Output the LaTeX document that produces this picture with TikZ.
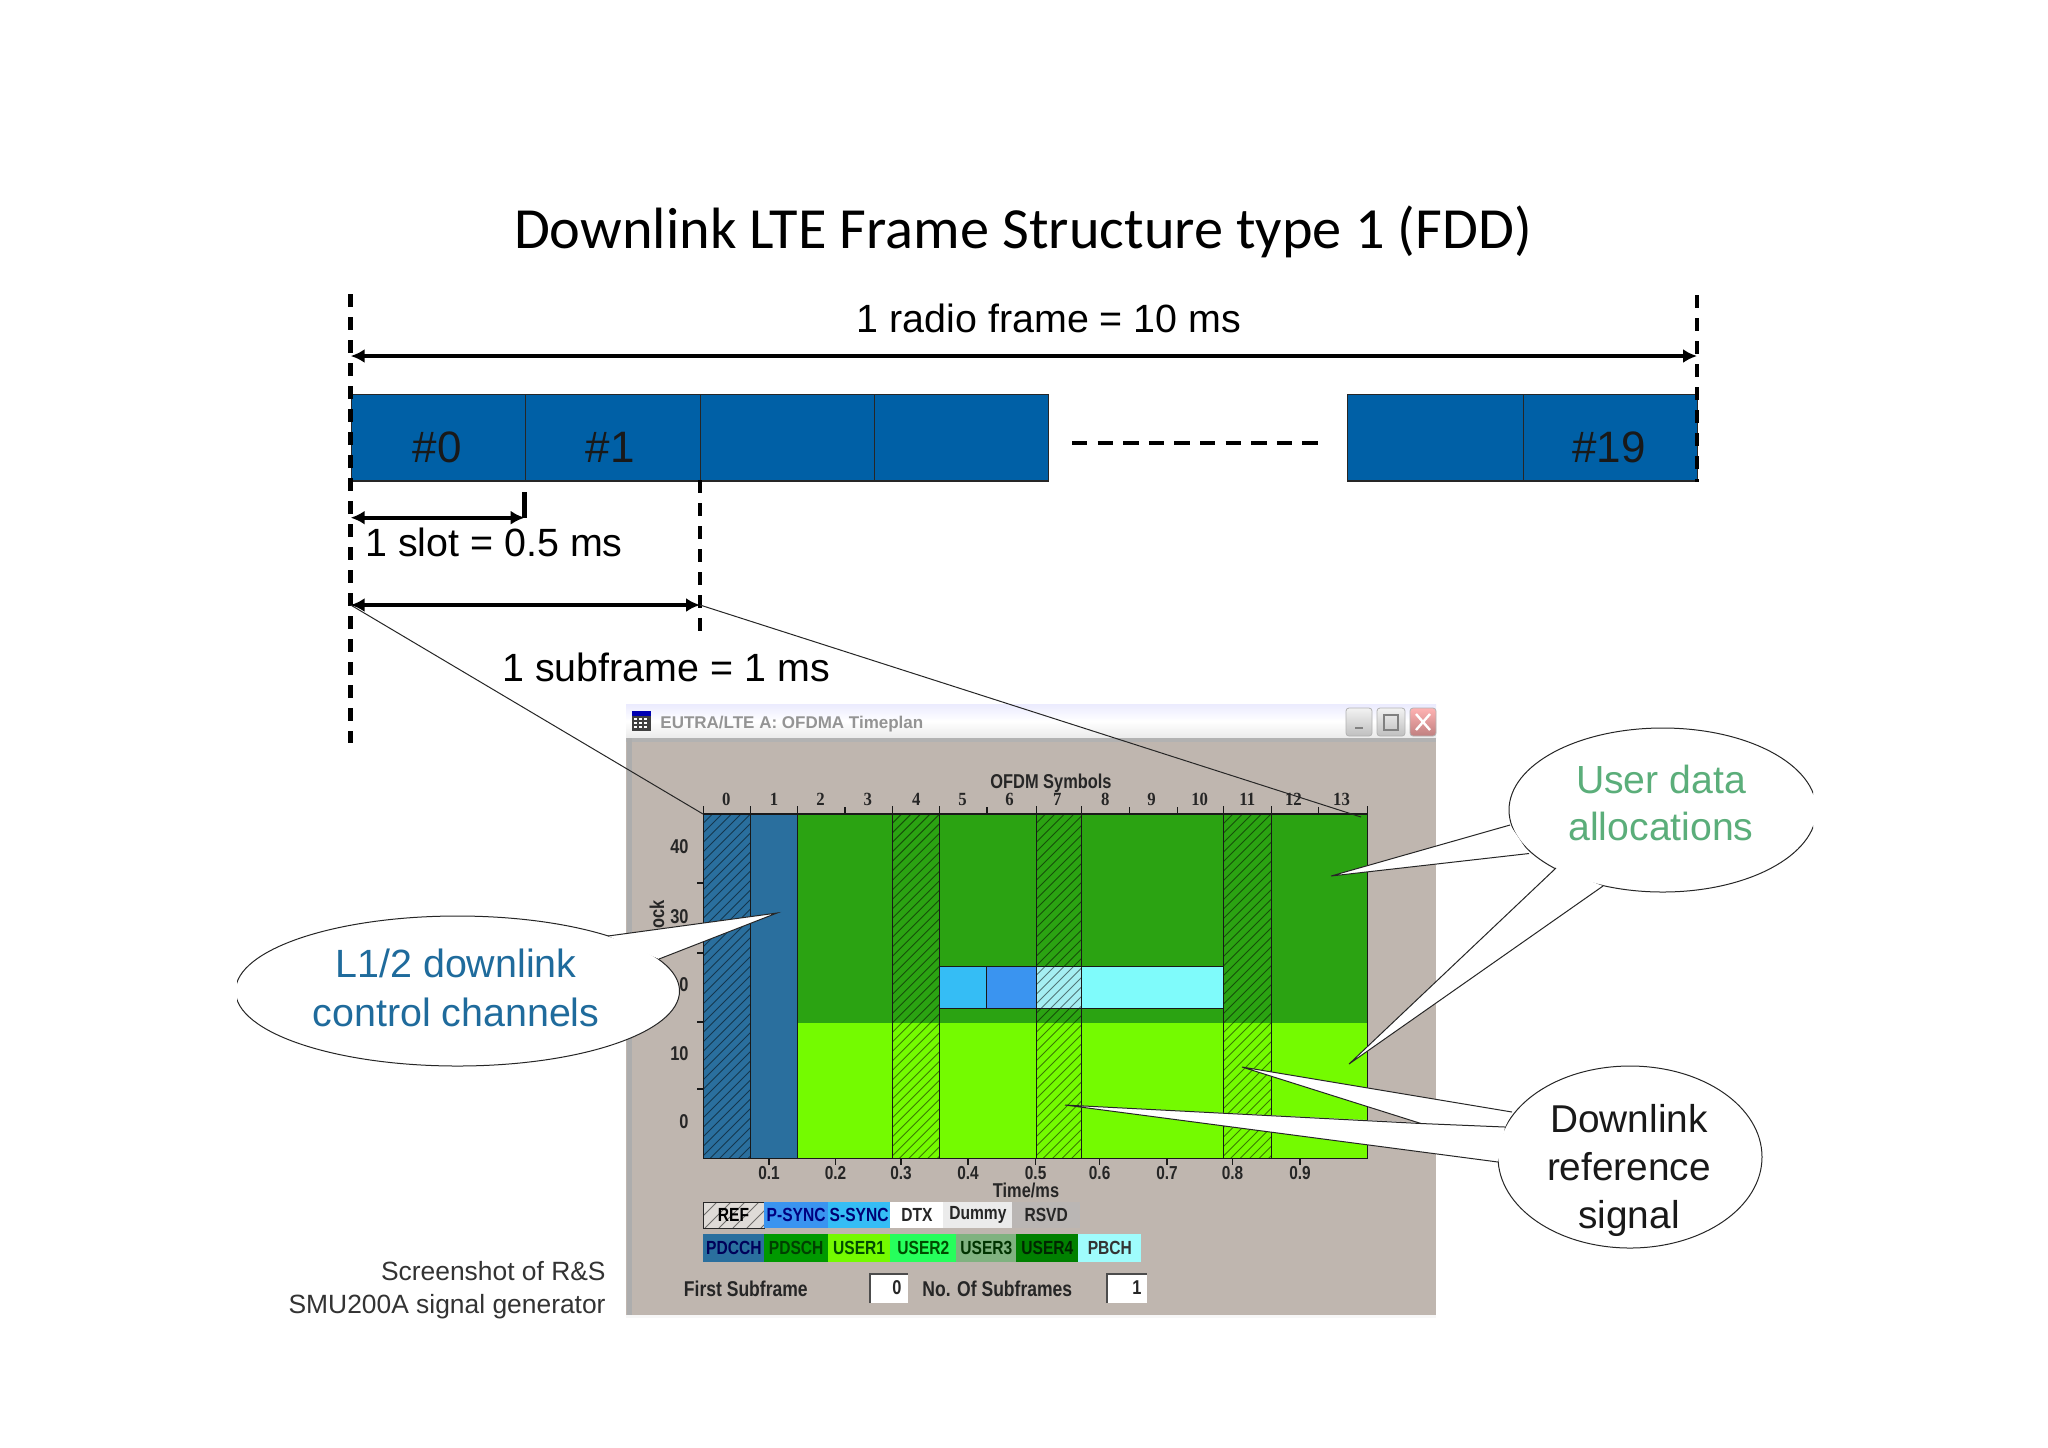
\documentclass[tikz,border=0pt]{standalone}
\usepackage{fontspec}
\setmainfont{Liberation Sans}
\newfontfamily\titlefont{Carlito}
\newfontfamily\uifont[FakeStretch=0.82]{Liberation Sans}
\newfontfamily\uiwide{Liberation Sans}
\newfontfamily\uiserif[FakeStretch=0.9]{Liberation Serif}
\usetikzlibrary{arrows.meta}
\definecolor{barblue}{HTML}{0060A6}
\definecolor{wingray}{HTML}{BFB6AF}
\definecolor{rsvdgray}{HTML}{BAB6B4}
\definecolor{pdcch}{HTML}{2A6F9E}
\definecolor{dkgreen}{HTML}{2BA312}
\definecolor{ltgreen}{HTML}{74FB00}
\definecolor{ssync}{HTML}{35BDF5}
\definecolor{psync}{HTML}{3A94F0}
\definecolor{pbch}{HTML}{7FFBFB}
\definecolor{pbchlt}{HTML}{A5EEF2}
\definecolor{ltxtblue}{HTML}{1F6B9C}
\definecolor{ltxtgreen}{HTML}{5BAE7A}
\tikzset{
  x=0.5pt,y=-0.5pt,
  lab/.style={inner sep=0pt,font=\fontsize{19.7}{22}\selectfont,anchor=base west},
  slotbox/.style={draw=black!85,line width=0.7pt,fill=barblue},
  slotno/.style={inner sep=0pt,text=black!90,font=\fontsize{22}{22}\selectfont},
  bigdash/.style={line width=2.3pt,dash pattern=on 6.5pt off 5pt},
  dimarrow/.style={line width=2.1pt,{Latex[length=7pt,width=7pt]}-{Latex[length=7pt,width=7pt]}},
  thin1/.style={line width=0.5pt,black!85},
  axline/.style={line width=0.6pt,black!90},
  uilab/.style={inner sep=0pt,font=\fontsize{10}{10}\selectfont\uifont\bfseries,text=black!85},
  timelab/.style={inner sep=0pt,font=\fontsize{9.4}{10}\selectfont\uifont\bfseries,text=black!85},
  uilong/.style={inner sep=0pt,font=\fontsize{10.7}{11}\selectfont\uifont\bfseries,text=black!85},
  symlab/.style={inner sep=0pt,font=\fontsize{9.3}{10}\selectfont\uiserif\bfseries,text=black!85},
  legbox/.style={inner sep=0pt,font=\fontsize{9.5}{10}\selectfont\uifont\bfseries},
  bubbleline/.style={line width=0.5pt,black!85},
}
\newcommand{\hatchrect}[5]{%
  \begin{scope}
    \clip (#1,#2) rectangle (#3,#4);
    \pgfmathsetmacro{\hh}{#4-#2}
    \pgfmathsetmacro{\hstart}{#1-\hh}
    \pgfmathsetmacro{\hnext}{\hstart+#5}
    \pgfmathsetmacro{\hend}{#3+#5}
    \foreach \d in {\hstart,\hnext,...,\hend}
      \draw[line width=0.45pt,black,opacity=0.5] (\d,#4) -- ++(\hh,-\hh);
  \end{scope}}
\begin{document}
\begin{tikzpicture}
\useasboundingbox (0,0) rectangle (2048,1447);
\fill[white] (0,0) rectangle (2048,1447);

% title
\node[inner sep=0pt,font=\fontsize{29.15}{32}\selectfont\titlefont] (title) at (1023,232) {Downlink LTE Frame Structure type 1 (FDD)};

% ===== window =====
\fill[wingray] (626,704) rectangle (1436,1315);
\shade[top color=black!4!blue!8!white,bottom color=black!8,middle color=white] (626,704) rectangle (1436,738);
\fill[black!30] (626,738) rectangle (1436,742);
\fill[black!32] (627,738) rectangle (632,1315);
\fill[black!3] (626,1315) rectangle (1436,1318);
% icon
\fill[black!75] (632,711) rectangle (651,731);
\fill[blue!70!black] (632,711) rectangle (651,716);
\foreach \ix in {634,639,644}\foreach \iy in {718,722,726}
  \fill[white] (\ix,\iy) rectangle ++(3,2);
\node[inner sep=0pt,anchor=west,text=black!42,font=\fontsize{8.5}{9}\selectfont\uiwide\bfseries] (wintitle) at (660,724) {EUTRA/LTE A: OFDMA Timeplan};
% buttons
\draw[black!30,top color=black!5,bottom color=black!25,rounded corners=1.5pt,line width=0.4pt] (1346,708) rectangle (1372,736);
\draw[black!50,line width=0.8pt] (1355,728) -- (1363,728);
\draw[black!30,top color=black!5,bottom color=black!25,rounded corners=1.5pt,line width=0.4pt] (1377,708) rectangle (1405,736);
\draw[black!50,line width=0.6pt] (1384,715) rectangle (1398,730);
\draw[black!30,top color=red!30,bottom color=red!50!black!50,rounded corners=1.5pt,line width=0.4pt] (1410,708) rectangle (1436,736);
\draw[white,line width=1.2pt] (1416,714) -- (1430,730) (1430,714) -- (1416,730);

% ===== plot =====
\fill[pdcch] (703,814) rectangle (797.9,1158.5);
\fill[dkgreen] (797.9,814) rectangle (1367,1023);
\fill[ltgreen] (797.9,1023) rectangle (1367,1158.5);
% band
\fill[ssync] (939.7,966.5) rectangle (986.9,1008.5);
\fill[psync] (986.9,966.5) rectangle (1036,1008.5);
\fill[pbchlt] (1036,966.5) rectangle (1081.6,1008.5);
\fill[pbch] (1081.6,966.5) rectangle (1223.5,1008.5);
% hatches
\hatchrect{703}{814}{750.8}{1158.5}{9.5}
\hatchrect{892.1}{814}{939.7}{1158.5}{9.5}
\hatchrect{1036}{814}{1081.6}{1158.5}{9.5}
\hatchrect{1223.5}{814}{1271.1}{1158.5}{9.5}
% column lines
\foreach \cx in {703,750.8,797.9,892.1,939.7,1036,1081.6,1223.5,1271.1,1367}
  \draw[axline,line width=0.5pt] (\cx,806) -- (\cx,1158.5);
\draw[axline,line width=0.5pt] (986.9,966.5) -- (986.9,1008.5);
\draw[axline] (939.7,966.5) -- (1223.5,966.5) (939.7,1008.5) -- (1223.5,1008.5);
\draw[axline,line width=0.8pt] (703,814) -- (1367,814);
\draw[axline,line width=0.8pt] (703,1158.5) -- (1367,1158.5);
% ticks
\foreach \tx in {845,986.9,1129.8,1177.4,1318.8}
  \draw[axline] (\tx,807) -- (\tx,814);
\foreach \tx in {769,835.5,901,968,1035.6,1099.6,1167,1232.5,1300}
  \draw[axline] (\tx,1158.5) -- (\tx,1165);
\foreach \ty in {883,953,1022,1089}
  \draw[axline] (697,\ty) -- (703,\ty);
% symbol labels
\foreach \sx/\sl in {726.4/0,774/1,820.6/2,867.8/3,916.4/4,962.5/5,1009.6/6,1057.3/7,1105.4/8,1151.5/9,1199.7/10,1247.3/11,1293.4/12,1341.5/13}
  \node[symlab] (sym\sl) at (\sx,799) {\sl};
\node[uilab] (ofdm) at (1051,783) {OFDM Symbols};
% time labels
\foreach \tx/\tl/\tn in {769/0.1/a,835.5/0.2/b,901/0.3/c,968/0.4/d,1035.6/0.5/e,1099.6/0.6/f,1167/0.7/g,1232.5/0.8/h,1300/0.9/i}
  \node[timelab] (time\tn) at (\tx,1173) {\tl};
\node[uilab] (timems) at (1026,1190) {Time/ms};
% y labels
\foreach \yy/\yl/\yn in {847/40/a,917/30/b,1054/10/d,1122/0/e}
  \node[uilab,anchor=east] (ylab\yn) at (689,\yy) {\yl};
\node[uilab,rotate=90] (ylab) at (657,914) {ock};

% legend row 1
\fill[wingray!50!white] (703,1202) rectangle (764,1228);
\hatchrect{703}{1202}{764}{1228}{14}
\draw[line width=0.5pt,black!85] (703,1202) rectangle (764,1228);
\node[legbox] (lref) at (733.5,1215) {REF};
\node[legbox,minimum width=31.75pt,minimum height=13pt,fill=psync,text=blue!50!black,anchor=north west] (lps) at (764,1202) {P-SYNC};
\node[legbox,minimum width=31.25pt,minimum height=13pt,fill=ssync,text=blue!45!black,anchor=north west] (lss) at (827.5,1202) {S-SYNC};
\node[legbox,minimum width=26.5pt,minimum height=13pt,fill=white,text=black!85,anchor=north west] (ldtx) at (890,1202) {DTX};
\node[legbox,minimum width=34.5pt,minimum height=13pt,fill=black!8,text=black!85,anchor=north west] (ldum) at (943,1202) {Dummy};
\node[legbox,minimum width=33.75pt,minimum height=13pt,fill=rsvdgray,text=black!85,anchor=north west] (lrsvd) at (1012,1202) {RSVD};
% legend row 2
\node[legbox,minimum width=30.5pt,minimum height=14pt,fill=pdcch,text=blue!35!black,anchor=north west] (lpdcch) at (703,1234) {PDCCH};
\node[legbox,minimum width=31.75pt,minimum height=14pt,fill=green!60!black,text=green!25!black,anchor=north west] (lpdsch) at (764,1234) {PDSCH};
\node[legbox,minimum width=31.25pt,minimum height=14pt,fill=ltgreen,text=green!30!black,anchor=north west] (luser1) at (827.5,1234) {USER1};
\node[legbox,minimum width=33pt,minimum height=14pt,fill=green!75!cyan!85!white,text=green!30!black,anchor=north west] (luser2) at (890,1234) {USER2};
\node[legbox,minimum width=30pt,minimum height=14pt,fill=green!40!black!50!white,text=green!20!black,anchor=north west] (luser3) at (956,1234) {USER3};
\node[legbox,minimum width=31pt,minimum height=14pt,fill=green!50!black,text=green!15!black,anchor=north west] (luser4) at (1016,1234) {USER4};
\node[legbox,minimum width=31.5pt,minimum height=14pt,fill=pbch!75!white,text=black!80,anchor=north west] (lpbch) at (1078,1234) {PBCH};
% bottom row
\node[uilong,anchor=west] (first) at (683.5,1289) {First Subframe};
\fill[white] (870,1274) rectangle (907.5,1303);
\draw[black!70,line width=0.6pt] (870,1303) -- (870,1274) -- (907.5,1274);
\node[uilab,anchor=east] (firstval) at (902,1288) {0};
\node[uilong,anchor=west] (nosub) at (922,1289) {No. Of Subframes};
\fill[white] (1107,1274) rectangle (1147,1303);
\draw[black!70,line width=0.6pt] (1107,1303) -- (1107,1274) -- (1147,1274);
\node[uilab,anchor=east] (nosubval) at (1142,1288) {1};

% ===== frame bars =====
\node[slotbox,minimum width=87pt,minimum height=43.2pt,inner sep=0pt,anchor=north west] (s0) at (350.7,393.7) {};
\node[slotbox,minimum width=87.65pt,minimum height=43.2pt,inner sep=0pt,anchor=north west] (s1) at (524.7,393.7) {};
\node[slotbox,minimum width=87pt,minimum height=43.2pt,inner sep=0pt,anchor=north west] (s2) at (700,393.7) {};
\node[slotbox,minimum width=87pt,minimum height=43.2pt,inner sep=0pt,anchor=north west] (s3) at (874,393.7) {};
\node[slotbox,minimum width=88pt,minimum height=43.2pt,inner sep=0pt,anchor=north west] (s18) at (1347,393.7) {};
\node[slotbox,minimum width=87pt,minimum height=43.2pt,inner sep=0pt,anchor=north west] (s19) at (1523,393.7) {};
\node[slotno] (n0) at (437,447) {\#0};
\node[slotno] (n1) at (610,447) {\#1};
\node[slotno] (n19) at (1609,447) {\#19};

% dashed guides
\coordinate (ltop) at (350.7,294);
\coordinate (lbot) at (350.7,743);
\coordinate (rtop) at (1697,295);
\coordinate (rbot) at (1697,482);
\coordinate (slottop) at (524.7,492);
\coordinate (slotend) at (524.7,518);
\coordinate (subtop) at (700,480);
\coordinate (subbot) at (700,632);
\draw[bigdash] (ltop) -- (lbot);
\draw[bigdash] (rtop) -- (rbot);
\draw[line width=2.3pt] (slottop) -- (slotend);
\draw[bigdash] (subtop) -- (subbot);
\coordinate (dashl) at (1072,443);
\coordinate (dashr) at (1320,443);
\draw[line width=2.2pt,dash pattern=on 7.7pt off 5.1pt] (dashl) -- (dashr);

% arrows
\coordinate (frameL) at (350.7,356);
\coordinate (frameR) at (1697,356);
\coordinate (slotL) at (350.7,517.7);
\coordinate (slotR) at (524.7,517.7);
\coordinate (subL) at (350.7,605);
\coordinate (subR) at (700,605);
\draw[dimarrow] (frameL) -- (frameR);
\draw[dimarrow] (slotL) -- (slotR);
\draw[dimarrow] (subL) -- (subR);
\node[inner sep=0pt,font=\fontsize{19.7}{22}\selectfont] (framelab) at (1049,318) {1 radio frame = 10 ms};
\node[lab] (slotlab) at (365,556) {1 slot = 0.5 ms};
\node[lab] (sublab) at (502,681) {1 subframe = 1 ms};

% zoom lines
\coordinate (plotTL) at (703,814);
\coordinate (plotTR) at (1361,817);
\draw[thin1] (subL) -- (plotTL);
\draw[thin1] (subR) -- (plotTR);

% ===== callouts =====
% L1/2
\begin{scope}
  \clip (237,880) rectangle (800,1100);
  \draw[bubbleline,fill=white] (457.5,991) ellipse [x radius=111pt,y radius=37.5pt];
\end{scope}
\coordinate (la) at (777,913);
\coordinate (lb) at (608,936);
\coordinate (lc) at (659,959);
\fill[white] (la) -- (lb) -- (lc) -- cycle;
\draw[bubbleline] (lb) -- (la) -- (lc);
\node[uilab,anchor=east] (ylabc) at (689,985) {0};
\node[inner sep=0pt,align=center,font=\fontsize{19.7}{24.8}\selectfont,text=ltxtblue] (ltext) at (456,988) {L1/2 downlink\\control channels};

% user data
\begin{scope}
  \clip (1400,700) rectangle (1813,920);
  \draw[bubbleline,fill=white] (1662.7,810) ellipse [x radius=76.85pt,y radius=41pt];
\end{scope}
\coordinate (ua) at (1331,876);
\coordinate (ub) at (1510,825);
\coordinate (uc) at (1529,853.5);
\fill[white] (ua) -- (ub) -- (uc) -- cycle;
\draw[bubbleline] (ub) -- (ua) -- (uc);
\coordinate (ud) at (1349,1064);
\coordinate (ue) at (1556,868);
\coordinate (uf) at (1603,886);
\fill[white] (ud) -- (ue) -- (uf) -- cycle;
\draw[bubbleline] (ue) -- (ud) -- (uf);
\node[inner sep=0pt,align=center,font=\fontsize{19.6}{23.6}\selectfont,text=ltxtgreen] (utext) at (1661,803) {User data\\allocations};

% downlink reference
\draw[bubbleline,fill=white] (1630,1157) ellipse [x radius=66pt,y radius=45.5pt];
\coordinate (da) at (1242,1067);
\coordinate (db) at (1512,1112);
\coordinate (dc) at (1505,1127);
\coordinate (dk) at (1421,1123.5);
\coordinate (de) at (1065,1105);
\coordinate (df) at (1498,1162);
\fill[white] (de) -- (dc) -- (df) -- cycle;
\fill[white] (da) -- (db) -- (dc) -- (dk) -- cycle;
\draw[bubbleline] (db) -- (da) -- (dk) -- (dc);
\draw[bubbleline] (dk) -- (de) -- (df);
\node[inner sep=0pt,align=center,font=\fontsize{19.4}{24}\selectfont,text=black!90] (dtext) at (1629,1170) {Downlink\\reference\\signal};

% caption
\node[inner sep=0pt,anchor=east,align=right,text=black!80,font=\fontsize{13.2}{16.3}\selectfont] (caption) at (606,1290) {Screenshot of R\&S\\SMU200A signal generator};
\end{tikzpicture}
\end{document}
